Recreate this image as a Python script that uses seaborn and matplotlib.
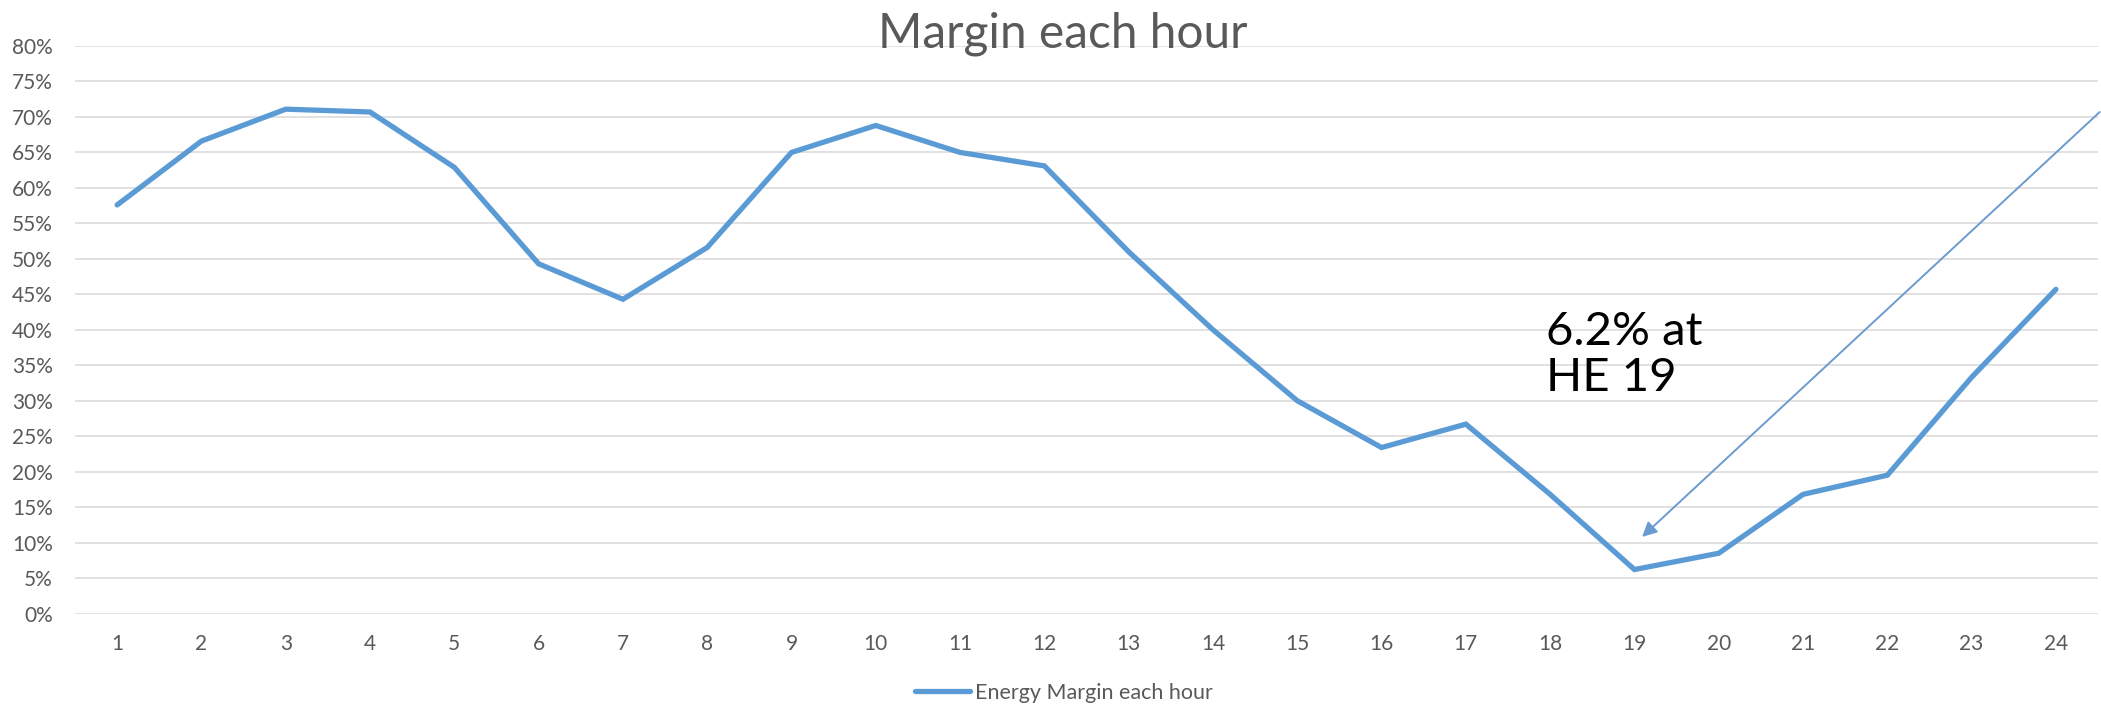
import matplotlib
matplotlib.use("Agg")
import matplotlib.pyplot as plt
import numpy as np
import pandas as pd
import seaborn as sns

# hour ending 1..24 and energy margin in percent
hours = list(range(1, 25))
margin_pct = [57.6, 66.6, 71.1, 70.7, 62.9, 49.3, 44.3, 51.6, 65.0, 68.8, 65.0, 63.1,
              51.0, 40.0, 30.0, 23.4, 26.7, 16.8, 6.2, 8.5, 16.8, 19.5, 33.3, 45.7]
y_ticks = list(range(0, 81, 5))

series_name = "Energy Margin each hour"
title = "Margin each hour"
note = "6.2% at\nHE 19"

line_color = "#5B9BD5"
text_grey = "#595959"

df = pd.DataFrame({"hour": hours, "margin": margin_pct})

sns.set_theme(style="white")
plt.rcParams["font.family"] = ["Lato", "DejaVu Sans"]

fig = plt.figure(figsize=(21.01, 7.07), dpi=100)
ax = fig.add_axes([0.0357, 0.1322, 0.9629, 0.8027])

sns.lineplot(data=df, x="hour", y="margin", ax=ax, color=line_color,
             linewidth=3.8, label=series_name, legend=False,
             solid_joinstyle="miter")

ax.set_xlim(0.5, 24.5)
ax.set_ylim(0, 80)
ax.set_xticks(hours)
ax.set_xticklabels([str(h) for h in hours])
ax.set_yticks(y_ticks)
ax.set_yticklabels([f"{v}%" for v in y_ticks])
ax.yaxis.grid(True, color="#D9D9D9", linewidth=1.1)
ax.xaxis.grid(False)
ax.set_axisbelow(True)
for s in ax.spines.values():
    s.set_visible(False)
ax.tick_params(axis="both", length=0, labelsize=15, colors=text_grey)
ax.tick_params(axis="x", pad=15)
ax.tick_params(axis="y", pad=16)
ax.set_xlabel("")
ax.set_ylabel("")

fig.text(1063 / 2101, 1 - 47 / 707, title, ha="center", va="baseline",
         fontsize=34.5, color=text_grey)

# callout for the minimum
ax.text(17.95, 42.6, note, ha="left", va="top", fontsize=34, color="black",
        linespacing=1.12)
ax.annotate("", xy=(19.09, 10.8), xytext=(24.52, 70.7),
            arrowprops=dict(arrowstyle="-|>", color="#6A9BD0", lw=1.4,
                            mutation_scale=22, shrinkA=0, shrinkB=0),
            annotation_clip=False)

handles, labels = ax.get_legend_handles_labels()
leg = fig.legend(handles, labels, loc="center", bbox_to_anchor=(1064 / 2101, 14 / 707),
                 frameon=False, fontsize=15.5, handlelength=2.55, handletextpad=0.23)
for t in leg.get_texts():
    t.set_color(text_grey)

fig.savefig("out.png", dpi=100)
